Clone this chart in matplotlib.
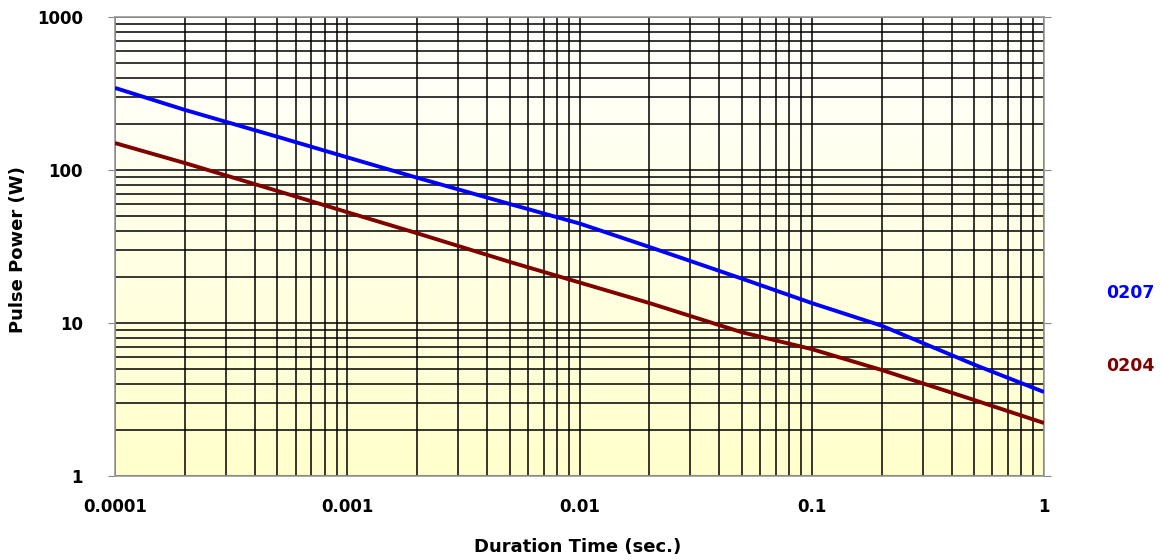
import numpy as np
import matplotlib
matplotlib.use('Agg')
import matplotlib.pyplot as plt
from matplotlib.ticker import LogLocator, FixedLocator, NullFormatter

plt.rcParams['font.family'] = ['DejaVu Sans']

# ---- data (duration in s, pulse power in W) ----
duration = [1e-4, 2e-4, 5e-4, 1e-3, 2e-3, 5e-3, 1e-2, 2e-2, 5e-2, 0.1, 0.2, 0.5, 1.0]
power_0207 = [344, 247, 165, 121, 89, 60, 44.7, 31.4, 19.5, 13.5, 9.6, 5.35, 3.54]
power_0204 = [150, 111, 73, 53, 38.6, 25.1, 18.4, 13.5, 8.7, 6.75, 4.93, 3.14, 2.22]
series_names = ['0207', '0204']
series_colors = ['#0000FF', '#800000']
label_y = [15.7, 5.2]          # where the series names sit on the right
x_ticks = [1e-4, 1e-3, 1e-2, 1e-1, 1]
x_ticklabels = ['0.0001', '0.001', '0.01', '0.1', '1']
y_ticks = [1, 10, 100, 1000]
y_ticklabels = ['1', '10', '100', '1000']

fig = plt.figure(figsize=(11.62, 5.6), dpi=100)
ax = fig.add_axes([115 / 1162, 1 - 476 / 560, 929 / 1162, 459 / 560])

# background: white at the top fading to pale yellow at the bottom
grad = np.linspace(0, 1, 256).reshape(-1, 1)
top = np.array([1.0, 1.0, 1.0])
bot = np.array([1.0, 1.0, 0.80])
img = top + (bot - top) * grad[..., None]
ax.imshow(img, extent=[0, 1, 0, 1], transform=ax.transAxes, aspect='auto',
          zorder=0, origin='upper')

ax.set_xscale('log'); ax.set_yscale('log')
ax.set_xlim(1e-4, 1); ax.set_ylim(1, 1000)

for vals, c in zip([power_0207, power_0204], series_colors):
    ax.plot(duration, vals, color=c, lw=2.8, zorder=3, solid_capstyle='butt')

# grid: every major and minor line, black
ax.xaxis.set_major_locator(FixedLocator(x_ticks))
ax.yaxis.set_major_locator(FixedLocator(y_ticks))
ax.xaxis.set_minor_locator(LogLocator(base=10, subs=np.arange(2, 10)))
ax.yaxis.set_minor_locator(LogLocator(base=10, subs=np.arange(2, 10)))
ax.xaxis.set_minor_formatter(NullFormatter()); ax.yaxis.set_minor_formatter(NullFormatter())
ax.grid(which='both', color='black', lw=1.1, zorder=1)
for ln in ax.get_xgridlines() + ax.get_ygridlines():
    ln.set_zorder(1)

ax.set_xticklabels(x_ticklabels, fontsize=12, fontweight='bold')
ax.set_yticklabels(y_ticklabels, fontsize=12, fontweight='bold')
ax.tick_params(axis='both', which='both', length=0)
ax.tick_params(axis='x', pad=16)
ax.tick_params(axis='y', pad=18)
ax.tick_params(axis='y', which='major', right=True, length=5, color='#888888')

for s in ax.spines.values():
    s.set_color('#999999'); s.set_linewidth(1.2)

fig.text(578 / 1162, 1 - 547 / 560, 'Duration Time (sec.)', fontsize=13,
         fontweight='bold', ha='center', va='center')
fig.text(18 / 1162, 1 - 250 / 560, 'Pulse Power (W)', fontsize=13,
         fontweight='bold', ha='center', va='center', rotation=90)

for name, c, yy in zip(series_names, series_colors, label_y):
    ax.text(1.093, yy, name, color=c, fontsize=12.5, fontweight='bold',
            ha='center', va='center', transform=ax.get_yaxis_transform(), clip_on=False)

fig.savefig('out.png', dpi=100)
